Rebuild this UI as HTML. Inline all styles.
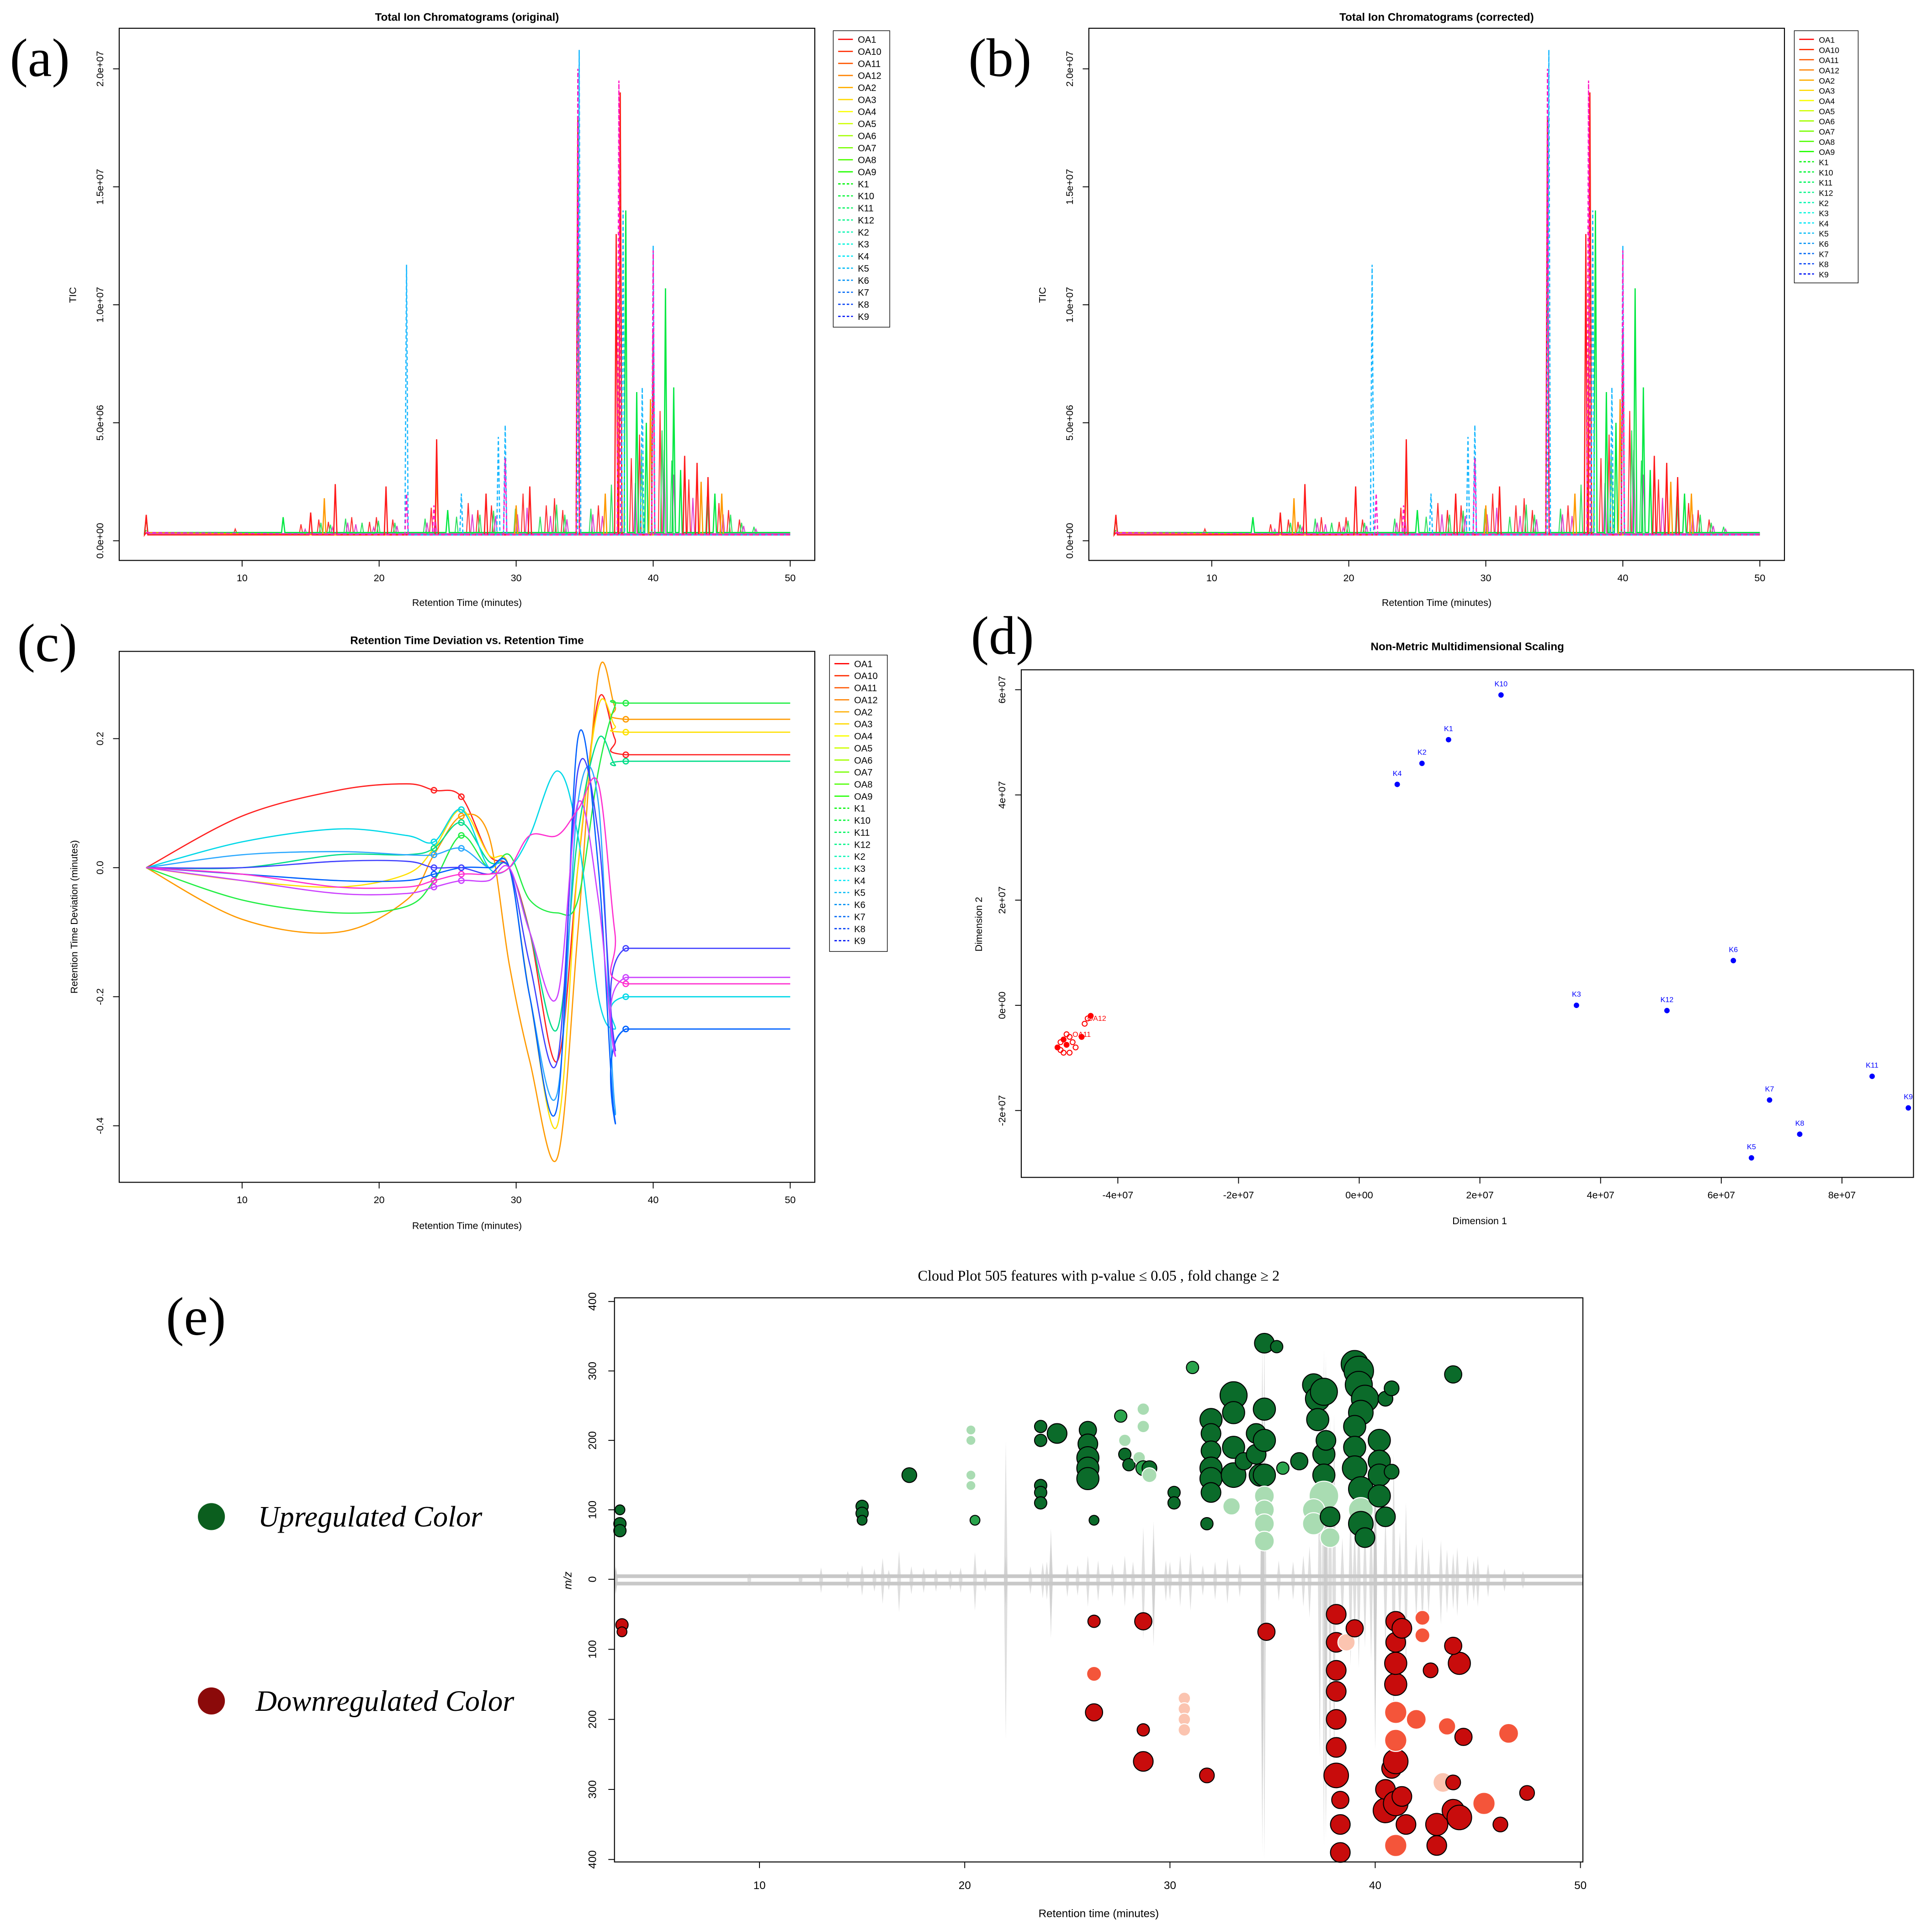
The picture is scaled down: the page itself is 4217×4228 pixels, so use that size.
<!DOCTYPE html>
<html><head><meta charset="utf-8"><style>
html,body{margin:0;padding:0;background:#fff}
svg{display:block;font-family:"Liberation Sans",sans-serif}
</style></head><body>
<svg id="root" xmlns="http://www.w3.org/2000/svg" width="4217" height="4228" viewBox="0 0 1568 1572" preserveAspectRatio="none">
<rect width="1568" height="1572" fill="#fff"/>
<text x="8" y="62" font-family="Liberation Serif" font-size="44">(a)</text>
<text x="788" y="62" font-family="Liberation Serif" font-size="44">(b)</text>
<text x="14" y="538" font-family="Liberation Serif" font-size="44">(c)</text>
<text x="790" y="532" font-family="Liberation Serif" font-size="44">(d)</text>
<text x="135" y="1086" font-family="Liberation Serif" font-size="44">(e)</text>
<circle cx="172" cy="1234" r="11" fill="#0b5e1e"/>
<text x="210" y="1242" font-family="Liberation Serif" font-style="italic" font-size="24">Upregulated Color</text>
<circle cx="172" cy="1384" r="11" fill="#8b0a0a"/>
<text x="208" y="1392" font-family="Liberation Serif" font-style="italic" font-size="24">Downregulated Color</text>
<g id="g"></g>
</svg>
<script>
// ---------- data ----------
const legendNames=['OA1','OA10','OA11','OA12','OA2','OA3','OA4','OA5','OA6','OA7','OA8','OA9','K1','K10','K11','K12','K2','K3','K4','K5','K6','K7','K8','K9'];
const ticXTicks=[10,20,30,40,50];
const ticYTicks=[0,5,10,15,20];
const ticYLabels=['0.0e+00','5.0e+06','1.0e+07','1.5e+07','2.0e+07'];
const ticRedPeaks=[[3,1.1],[15,1.2],[16.8,2.4],[20.5,2.3],[24.2,4.3],[27.8,2.0],[31,2.3],[34.5,18],[37.3,13],[37.6,19],[40,9],[42.3,3.6],[43.2,3.3],[44,2.7]];
const ticOrangePeaks=[[16,1.8],[24.2,3],[30,1.5],[36.5,2],[37.6,18],[39.8,6],[43.5,2.5],[45,2]];
const ticGreenPeaks=[[3,1],[13,1],[25,1.3],[34.5,15],[38,14],[38.8,6.3],[39.5,5],[40.9,10.7],[41.5,6.5],[42,3],[44.5,2]];
const ticCyanPeaks=[[22,11.7],[26,2],[28.7,4.4],[29.2,4.9],[34.6,20.8],[37.8,14],[39.2,6.5],[40,12.5]];
const ticMagentaPeaks=[[22,2],[24,1.5],[29.2,3.5],[34.5,20],[37.5,19.5],[40,12.3]];
const ticMinorPeaks=[[9.5,0.5],[12,0.4],[14.3,0.7],[15.6,0.9],[16.3,0.8],[17.4,1.1],[18,1.0],[18.6,0.9],[19.3,0.8],[19.8,1.0],[21,0.9],[23.2,1.1],[23.8,1.4],[25.5,1.2],[26.5,1.6],[27.2,1.3],[28.2,1.5],[29.8,1.6],[30.5,2.0],[31.6,1.2],[32.2,1.5],[32.8,1.8],[33.4,1.3],[35.3,1.6],[36,1.5],[36.8,2.8],[38.4,3.5],[39,4.5],[40.5,5.5],[41.2,4.0],[42.6,2.6],[43.8,2.2],[44.8,1.6],[45.5,1.3],[46.3,0.9],[47.2,0.7]];
const rtGrid=[3,10,17,22,24,26,28,29.5,31,33,34.5,36,37.2,38,50];
const devOA1=[0,0.08,0.12,0.13,0.12,0.11,0.02,0,-0.1,-0.3,0,0.26,0.2,0.175,0.175];
const devOA3=[0,-0.08,-0.1,-0.05,0.02,0.08,0.05,-0.15,-0.3,-0.45,-0.1,0.3,0.25,0.23,0.23];
const devOA5=[0,-0.02,-0.03,-0.01,0.03,0.09,0.02,0,-0.2,-0.4,0,0.25,0.22,0.21,0.21];
const devOA8=[0,-0.05,-0.07,-0.06,-0.02,0.05,0,0.02,-0.05,-0.07,-0.05,0.15,0.25,0.255,0.255];
const devOA9=[0,0,0.02,0.02,0.03,0.07,0.01,0,-0.1,-0.25,0.05,0.2,0.16,0.165,0.165];
const devK10=[0,0.04,0.06,0.05,0.04,0.09,0,0,0.05,0.15,0.05,-0.2,-0.25,-0.2,-0.2];
const devK3=[0,0.02,0.025,0.02,0.02,0.03,0,0,-0.2,-0.35,0.1,0.1,-0.37,-0.25,-0.25];
const devK7=[0,-0.01,-0.02,-0.02,-0.01,0,0,0,-0.2,-0.37,0.2,0,-0.39,-0.25,-0.25];
const devK8=[0,0,0.01,0.01,0,0,-0.01,0,-0.15,-0.3,0.15,0.05,-0.28,-0.125,-0.125];
const devK9=[0,-0.02,-0.04,-0.04,-0.03,-0.02,-0.02,0,-0.1,-0.2,0.1,-0.05,-0.29,-0.17,-0.17];
const devK1=[0,-0.01,-0.03,-0.03,-0.02,-0.01,-0.01,0,0.05,0.05,0.09,0.13,-0.1,-0.18,-0.18];
const devYTicks=[-0.4,-0.2,0.0,0.2];
const nmdsNames=['K10','K1','K2','K4','K6','K3','K12','K11','K9','K7','K8','K5'];
const nmdsX=[2.35,1.48,1.04,0.63,6.2,3.6,5.1,8.5,9.1,6.8,7.3,6.5];
const nmdsY=[5.9,5.05,4.6,4.2,0.85,0,-0.1,-1.35,-1.95,-1.8,-2.45,-2.9];
const oaX=[-5.0,-4.95,-4.9,-4.85,-4.8,-4.75,-4.9,-4.95,-4.7,-4.6,-4.55,-4.5,-4.45,-4.85,-4.8];
const oaY=[-0.8,-0.7,-0.9,-0.75,-0.6,-0.7,-0.65,-0.85,-0.8,-0.6,-0.35,-0.25,-0.2,-0.55,-0.9];
const nmdsXTicks=[-4,-2,0,2,4,6,8];
const nmdsXLabels=['-4e+07','-2e+07','0e+00','2e+07','4e+07','6e+07','8e+07'];
const nmdsYTicks=[-2,0,2,4,6];
const nmdsYLabels=['-2e+07','0e+00','2e+07','4e+07','6e+07'];
const upRt=[3.2,3.2,3.2,15,15,15,17.3,20.3,20.3,20.3,20.3,20.5,23.7,23.7,23.7,23.7,23.7,24.5,26,26,26,26,26,26.3,27.6,27.8,27.8,28,28.5,28.7,28.7,28.7,29,29,30.2,30.2,31.1,32,32,32,32,32,32,31.8,33.1,33.1,33.1,33.1,33,33.6,34.2,34.2,34.4,34.6,34.6,34.6,34.6,34.6,34.6,34.6,34.6,35.2,35.5,36.3,37,37.2,37.2,37.5,37.5,37.5,37.5,37,37,37.8,37.8,37.6,39,39.2,39.2,39.5,39.3,39,39,39,39.3,39.3,39.3,39.5,40.2,40.2,40.2,40.2,40.5,40.5,40.8,40.8,43.8];
const upMz=[100,80,70,105,95,85,150,215,200,150,135,85,220,200,135,125,110,210,215,195,175,160,145,85,235,200,180,165,175,245,220,160,160,150,125,110,305,230,210,185,160,145,125,80,265,240,190,150,105,170,210,180,150,340,245,200,150,120,100,80,55,335,160,170,280,260,230,270,180,150,120,100,80,60,90,200,310,300,280,260,240,220,190,160,130,100,80,60,200,170,150,120,90,260,275,155,295];
const upSize=[4,5,5,5,5,4,6,4,4,4,4,4,5,5,5,5,5,8,7,8,9,9,9,4,5,5,5,5,5,5,5,6,6,6,5,5,5,9,8,8,9,9,8,5,11,9,9,10,7,7,8,8,9,8,9,9,9,8,8,8,8,5,5,7,9,10,9,11,9,9,12,9,9,8,8,8,11,12,11,11,10,9,9,10,10,10,10,8,9,9,9,9,8,6,6,6,7];
const upShade=['d','d','d','d','d','d','d','l','l','l','l','m','d','d','d','d','d','d','d','d','d','d','d','d','m','l','d','d','l','l','l','m','d','l','d','d','m','d','d','d','d','d','d','d','d','d','d','d','l','d','d','d','d','d','d','d','d','l','l','l','l','d','m','d','d','d','d','d','d','d','l','l','l','l','d','d','d','d','d','d','d','d','d','d','d','l','d','d','d','d','d','d','d','d','d','d','d'];
const dnRt=[3.3,3.3,26.3,26.3,26.3,28.7,28.7,28.7,30.7,30.7,30.7,30.7,31.8,34.7,38.1,38.1,38.1,38.1,38.1,38.1,38.1,38.3,38.3,38.3,38.6,39,40.5,40.5,40.8,41,41,41,41,41,41,41,41.3,41,41,41.3,41.5,42,42.3,42.3,42.7,43.3,43,43,43.5,43.8,43.8,44.1,44.1,43.8,44.3,45.3,46.1,46.5,47.4];
const dnMz=[65,75,60,135,190,60,215,260,170,185,200,215,280,75,50,90,130,160,200,240,280,315,350,390,90,70,330,300,270,260,230,190,150,120,90,60,70,320,380,310,350,200,55,80,130,290,350,380,210,290,330,340,120,95,225,320,350,220,305];
const dnSize=[5,4,5,6,7,7,5,8,5,5,5,5,6,7,8,8,8,8,8,8,10,7,8,8,7,7,10,8,8,10,9,9,9,9,8,8,8,10,9,8,8,8,6,6,6,8,9,8,7,6,9,10,9,7,7,9,6,8,6];
const dnShade=['d','d','d','o','d','d','d','d','lt','lt','lt','lt','d','d','d','d','d','d','d','d','d','d','d','d','lt','d','d','d','d','d','o','o','d','d','d','d','d','d','o','d','d','o','o','o','d','lt','d','d','o','d','d','d','d','d','d','o','d','o','d'];
const cloudXTicks=[10,20,30,40,50];
const cloudYTicks=[0,100,200,300,400];

// ---------- helpers ----------
const NS='http://www.w3.org/2000/svg';
const G=document.getElementById('g');
function mk(tag,attrs,parent){const e=document.createElementNS(NS,tag);for(const k in attrs)e.setAttribute(k,attrs[k]);(parent||G).appendChild(e);return e;}
function txt(x,y,s,size,extra){const t=mk('text',Object.assign({x:x,y:y,'font-size':size,'text-anchor':'middle'},extra||{}));t.textContent=s;return t;}
function legendColor(i){const h=i*235/23;return 'hsl('+h+',100%,'+(i<12?50:48)+'%)';}
function axes(box,xt,xl,xf,yt,yl,yf,lbl){
  const r=mk('rect',{x:box[0],y:box[1],width:box[2]-box[0],height:box[3]-box[1],fill:'none',stroke:'#000','stroke-width':0.8});
  
  
  xt.forEach((v,i)=>{const x=xf(v);mk('line',{x1:x,x2:x,y1:box[3],y2:box[3]+5,stroke:'#000','stroke-width':0.7});
    const t=txt(x,box[3]+17,xl[i],8);
    
    });
  yt.forEach((v,i)=>{const y=yf(v);mk('line',{x1:box[0]-5,x2:box[0],y1:y,y2:y,stroke:'#000','stroke-width':0.7});
    const t=txt(box[0]-13,y,yl[i],8,{transform:'rotate(-90 '+(box[0]-13)+' '+y+')'});
    
    });
}
function legend(x,y,w,step,fs,lbl){
  const r=mk('rect',{x:x,y:y,width:w,height:step*24+6,fill:'#fff',stroke:'#000','stroke-width':0.5});
  
  
  legendNames.forEach((n,i)=>{const yy=y+7+i*step;
    mk('line',{x1:x+4,x2:x+16,y1:yy,y2:yy,stroke:legendColor(i),'stroke-width':1,'stroke-dasharray':i>=12?'2,1.5':''});
    const t=txt(x+20,yy+2.8,n,fs,{'text-anchor':'start'});
    
    });
}

// ---------- TIC panels ----------
function ticPanel(ox,title,cyanShift,lbl){
  const box=[97+ox,23,663+ox,456];
  const xf=t=>197+ox+(t-10)*11.15, yf=v=>440-v/20*384;
  const tt=txt((box[0]+box[2])/2,17,title,9,{'font-weight':'bold'});
  
  
  // minor peaks (dense background)
  const minorCols=['#ff3030','#30e060','#e040d0'];
  minorCols.forEach((col,ci)=>{
    let pts=[[3,0.3]];
    ticMinorPeaks.forEach((p,i)=>{if(i%3!==ci&&i%2!==ci%2)return;const t=p[0]+ci*0.15;pts.push([t-0.12,0.3],[t,p[1]*(1-ci*0.15)],[t+0.12,0.3]);});
    pts.push([50,0.3]);
    const pl=mk('polyline',{points:pts.map(p=>xf(p[0]).toFixed(1)+','+yf(p[1]).toFixed(1)).join(' '),fill:'none',stroke:col,'stroke-width':0.8});
    
    
  });
  const series=[[ticGreenPeaks,'#00e840',''],[ticOrangePeaks,'#ff9900',''],[ticRedPeaks,'#ff1a1a',''],[ticCyanPeaks,'#1ab8ff','3,2'],[ticMagentaPeaks,'#ff1ac6','3,2']];
  series.forEach((s,si)=>{
    const base=si==0?0.35:0.25;
    let pts=[[3,base+0.1]];
    s[0].slice().sort((a,b)=>a[0]-b[0]).forEach(p=>{let t=p[0];if(si==3&&t<23)t+=cyanShift;pts.push([t-0.12,base],[t,p[1]],[t+0.12,base]);});
    pts.push([50,base]);
    const pl=mk('polyline',{points:pts.map(p=>xf(p[0]).toFixed(1)+','+yf(p[1]).toFixed(1)).join(' '),fill:'none',stroke:s[1],'stroke-width':1,'stroke-dasharray':s[2]});
    
    
  });
  axes(box,ticXTicks,ticXTicks.map(String),xf,ticYTicks,ticYLabels,yf,lbl);
  const yl=txt(box[0]-35,240,'TIC',8,{transform:'rotate(-90 '+(box[0]-35)+' 240)'});
  
  
  const xl=txt((box[0]+box[2])/2,493,'Retention Time (minutes)',8);
  
  
}
ticPanel(0,'Total Ion Chromatograms (original)',0,'panel-a');
legend(678,25,46,9.8,7.5,'panel-a');
ticPanel(789,'Total Ion Chromatograms (corrected)',-0.3,'panel-b');
legend(1460,25,52,8.3,6.5,'panel-b');

// ---------- panel c ----------
(function(){
  const box=[97,530,663,962];
  const xf=t=>197+(t-10)*11.15, yf=v=>706-v*525;
  const tt=txt(380,524,'Retention Time Deviation vs. Retention Time',9,{'font-weight':'bold'});
  
  
  const curves=[[devOA1,'#ff2020',''],[devOA3,'#ff9a00',''],[devOA5,'#ffe000',''],[devOA8,'#22ee44',''],[devOA9,'#00dd88',''],[devK10,'#00d8e8','3,2'],[devK3,'#2aa8ff','3,2'],[devK7,'#0060ff','3,2'],[devK8,'#4040ff','3,2'],[devK9,'#cc40ff','3,2'],[devK1,'#ff30d0','3,2']];
  curves.forEach(c=>{
    const P=rtGrid.map((t,i)=>[xf(t),yf(c[0][i])]);
    let d='M'+P[0][0]+','+P[0][1];
    for(let i=0;i<P.length-1;i++){
      const p0=P[Math.max(0,i-1)],p1=P[i],p2=P[i+1],p3=P[Math.min(P.length-1,i+2)];
      if(i>=13){d+=' L'+p2[0]+','+p2[1];continue;}
      d+=' C'+(p1[0]+(p2[0]-p0[0])/6).toFixed(1)+','+(p1[1]+(p2[1]-p0[1])/6).toFixed(1)+' '+(p2[0]-(p3[0]-p1[0])/6).toFixed(1)+','+(p2[1]-(p3[1]-p1[1])/6).toFixed(1)+' '+p2[0].toFixed(1)+','+p2[1].toFixed(1);
    }
    const p=mk('path',{d:d,fill:'none',stroke:c[1],'stroke-width':1});
    
    
    [4,5,13].forEach(k=>{const cc=mk('circle',{cx:P[k][0],cy:P[k][1],r:2.2,fill:'none',stroke:c[1],'stroke-width':1});
      
      });
  });
  axes(box,ticXTicks,ticXTicks.map(String),xf,devYTicks,devYTicks.map(v=>v.toFixed(1)),yf,'panel-c');
  const yl=txt(63,746,'Retention Time Deviation (minutes)',8,{transform:'rotate(-90 63 746)'});
  
  
  const xl=txt(380,1000,'Retention Time (minutes)',8);
  
  
  legend(675,533,47,9.8,7.5,'panel-c');
})();

// ---------- panel d ----------
(function(){
  const box=[831,545,1557,958];
  const xf=v=>1106+v*49.1, yf=v=>818-v*42.8;
  const tt=txt(1194,529,'Non-Metric Multidimensional Scaling',9,{'font-weight':'bold'});
  
  
  axes(box,nmdsXTicks,nmdsXLabels,xf,nmdsYTicks,nmdsYLabels,yf,'panel-d');
  nmdsNames.forEach((n,i)=>{
    const c=mk('circle',{cx:xf(nmdsX[i]),cy:yf(nmdsY[i]),r:2.2,fill:'#0000ff'});
    
    
    const t=txt(xf(nmdsX[i]),yf(nmdsY[i])-7,n,6,{fill:'#0000ff'});
    
    
  });
  oaX.forEach((v,i)=>{
    const c=mk('circle',{cx:xf(v),cy:yf(oaY[i]),r:2,fill:i%3==0?'#ff0000':'none',stroke:'#ff0000','stroke-width':0.8});
    
    
  });
  const t1=txt(xf(-4.6),yf(-0.55)+2,'OA11',6,{fill:'#ff0000'});
  
  
  const t2=txt(xf(-4.35),yf(-0.25)+2,'OA12',6,{fill:'#ff0000'});
  
  
  const yl=txt(799,752,'Dimension 2',8,{transform:'rotate(-90 799 752)'});
  
  
  const xl=txt(1204,996,'Dimension 1',8);
  
  
})();

// ---------- panel e ----------
(function(){
  const box=[500,1056,1288,1515];
  const xf=t=>618+(t-10)*16.7, yUp=m=>1285-m*0.565, yDn=m=>1285+m*0.57;
  const tt=txt(894,1042,'Cloud Plot  505 features with p-value \u2264 0.05 , fold change \u2265 2',12,{'font-family':'Liberation Serif'});
  
  
  const b1=mk('rect',{x:500,y:1281,width:788,height:3,fill:'#c8c8c8'});
  
  
  const b2=mk('rect',{x:500,y:1287,width:788,height:3,fill:'#c8c8c8'});
  
  
  [ticRedPeaks,ticGreenPeaks,ticCyanPeaks,ticMagentaPeaks,ticOrangePeaks,ticMinorPeaks].forEach(pk=>{
    pk.forEach(p=>{
      const h=p[1]*17, x=xf(p[0]);
      const pg=mk('polygon',{points:(x-1.5)+','+yUp(2)+' '+x+','+yUp(h)+' '+(x+1.5)+','+yUp(2)+' '+(x+1.5)+','+yDn(2)+' '+x+','+yDn(Math.min(h*1.15,400))+' '+(x-1.5)+','+yDn(2),fill:'#c8c8c8',opacity:0.6});
      
      
    });
  });
  const gcol={d:'#0b6b2a',m:'#2aa44c',l:'#a9dcb2'}, rcol={d:'#c80c0c',o:'#f4553a',lt:'#fbc4b0'};
  upRt.forEach((t,i)=>{
    const s=upShade[i];
    const c=mk('circle',{cx:xf(t),cy:yUp(upMz[i]),r:upSize[i],fill:gcol[s],stroke:s=='l'?'#fff':'#000','stroke-width':0.8});
    
    
  });
  dnRt.forEach((t,i)=>{
    const s=dnShade[i];
    const c=mk('circle',{cx:xf(t),cy:yDn(dnMz[i]),r:dnSize[i],fill:rcol[s],stroke:s=='d'?'#000':'#fff','stroke-width':0.8});
    
    
  });
  const r=mk('rect',{x:box[0],y:box[1],width:box[2]-box[0],height:box[3]-box[1],fill:'none',stroke:'#000','stroke-width':0.8});
  
  
  cloudXTicks.forEach(v=>{const x=xf(v);mk('line',{x1:x,x2:x,y1:1515,y2:1520,stroke:'#000','stroke-width':0.7});
    const t=txt(x,1537,String(v),9);
    
    });
  cloudYTicks.forEach(v=>{[yUp(v),yDn(v)].forEach((y,k)=>{if(v==0&&k==1)return;
    mk('line',{x1:495,x2:500,y1:y,y2:y,stroke:'#000','stroke-width':0.7});
    const t=txt(485,y,String(v),9,{transform:'rotate(-90 485 '+y+')'});
    
    });});
  const yl=txt(465,1286,'m/z',9,{'font-style':'italic',transform:'rotate(-90 465 1286)'});
  
  
  const xl=txt(894,1560,'Retention time (minutes)',9);
  
  
})();
</script>
</body></html>
